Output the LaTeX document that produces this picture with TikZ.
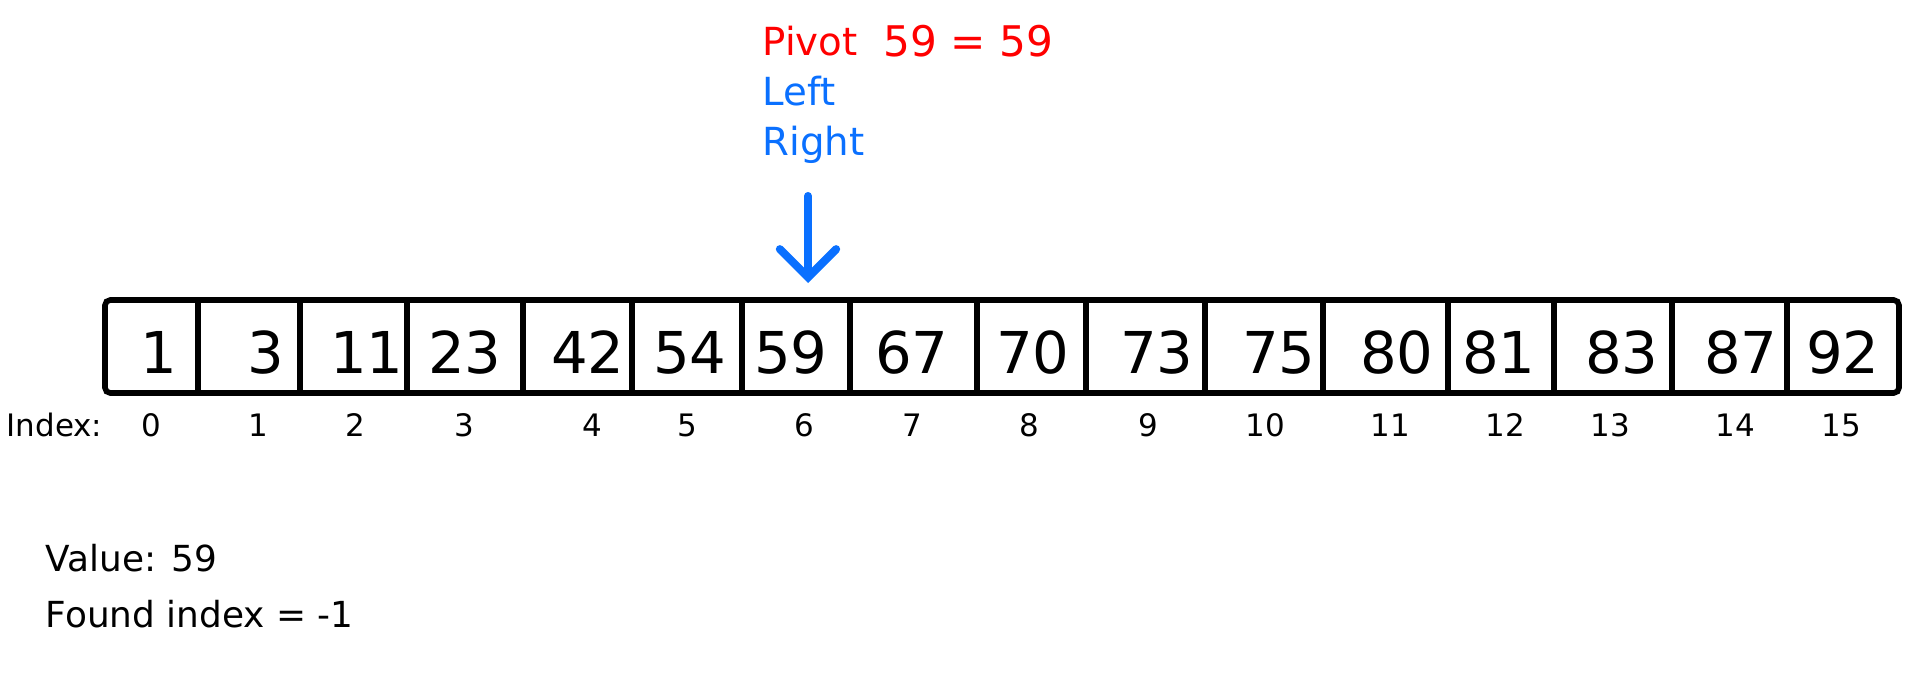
\documentclass[tikz,border=0pt]{standalone}
\usepackage{fontspec}
\setmainfont{DejaVu Sans}
\usetikzlibrary{arrows.meta}
\definecolor{pivotred}{RGB}{255,0,0}
\definecolor{ptrblue}{RGB}{10,112,255}
\begin{document}
\begin{tikzpicture}[x=0.01cm,y=-0.01cm,
    cell/.style={anchor=base,inner sep=0,font=\fontsize{16.4}{18}\selectfont},
    idx/.style={anchor=base,inner sep=0,font=\fontsize{8.8}{10}\selectfont},
    note/.style={anchor=base west,inner sep=0,font=\fontsize{10.2}{12}\selectfont},
    tag/.style={anchor=base west,inner sep=0,font=\fontsize{11}{13}\selectfont},
    pointer/.style={ptrblue,line width=2.3pt,line cap=round,line join=round,
        -{Straight Barb[length=8pt,width=16pt,line cap=round]}}]
    \useasboundingbox (0,0) rectangle (1920,700);
    \draw[line width=1.6pt,rounded corners=1.5pt] (105,300) rectangle (1899,393);
    \foreach \x in {198,300,407,523,632,742,850,977,1086,1205,1323,1448,1554,1672,1787}
        {\draw[line width=1.6pt] (\x,300) -- (\x,393);
        }
    \foreach \v/\x [count=\i from 0] in {1/159,3/266,11/367,23/465,42/588,54/690,59/791,67/912,
        70/1033,73/1157,75/1279,80/1397,81/1499,83/1622,87/1741,92/1843}
        \node[cell] (c\i) at (\x,373) {\v};
    \foreach \x [count=\i from 0] in {151,258,355,464,592,687,804,912,1029,1148,1265,1390,1505,1610,1735,1841}
        \node[idx] (i\i) at (\x,436) {\i};
    \node[idx,anchor=base west] (idxlbl) at (6,436) {Index:};
    \node[tag,pivotred] (pivot) at (762,55) {Pivot};
    \node[tag,pivotred,font=\fontsize{12}{14}\selectfont] (cmp) at (883,56) {59 = 59};
    \node[tag,ptrblue] (left) at (762,106) {Left};
    \node[tag,ptrblue] (right) at (762,156) {Right};
    \coordinate (ptop) at (808,196);
    \coordinate (ptip) at (808,283);
    \draw[pointer] (ptop) -- (ptip);
    \node[note] (value) at (45,571) {Value: 59};
    \node[note] (found) at (45,627) {Found index = -1};
\end{tikzpicture}
\end{document}
